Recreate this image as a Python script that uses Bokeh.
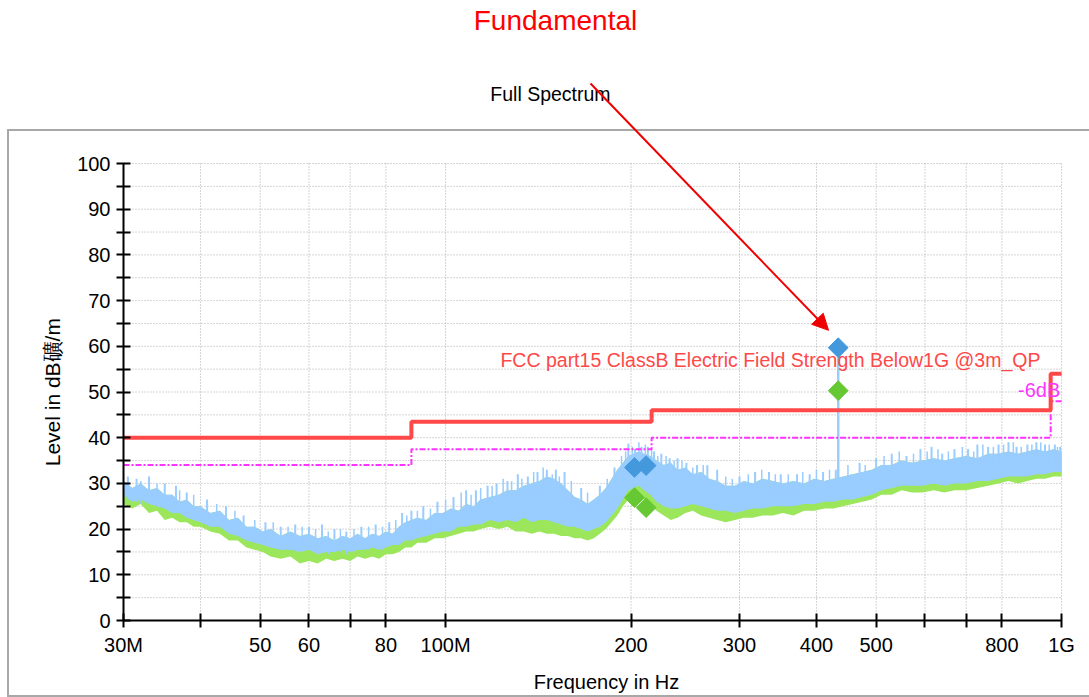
from bokeh.plotting import figure
from bokeh.models import FixedTicker, CustomJSTickFormatter, Label, Arrow, NormalHead
from bokeh.embed import file_html
from bokeh.resources import INLINE

# ---------------- data (frequency in MHz, level in dBuV/m) ----------------
freq_mhz = [30, 31, 32, 33, 34, 35, 36, 37, 38, 39, 40, 41.5, 43, 44.5, 46, 47.5, 49, 50.5,
            52, 54, 56, 58, 60, 62, 64, 66, 68, 70, 72, 74, 76, 78, 80, 82, 84, 86, 88, 90,
            93, 96, 99, 102, 105, 108, 111, 114, 118, 122, 126, 130, 134, 138, 142, 146,
            150, 154, 158, 162, 166, 170, 174, 178, 182, 186, 190, 194, 198, 202, 206, 210,
            215, 220, 226, 232, 238, 245, 252, 260, 268, 276, 285, 295, 305, 315, 327, 340,
            353, 367, 382, 397, 412, 426, 442, 458, 475, 492, 510, 530, 550, 572, 595, 620,
            645, 670, 700, 730, 760, 790, 820, 850, 880, 910, 940, 970, 1000]
peak_top = [30.5, 29.0, 30.0, 28.5, 29.0, 27.5, 27.5, 26.0, 26.5, 25.0, 25.0, 23.5, 24.0, 22.0,
            22.5, 20.5, 20.5, 19.5, 20.0, 18.5, 19.5, 18.5, 19.0, 18.0, 18.5, 17.5, 18.5, 18.0,
            19.0, 18.0, 19.0, 18.5, 19.5, 19.0, 20.5, 21.5, 22.0, 22.5, 22.0, 23.5, 23.5, 24.5,
            24.0, 25.5, 25.0, 26.5, 27.0, 27.5, 28.5, 28.5, 29.5, 30.0, 30.5, 31.5, 31.0, 30.0,
            28.5, 27.0, 26.5, 25.5, 26.5, 27.5, 29.0, 31.0, 33.0, 34.5, 36.0, 36.5, 37.0, 36.5,
            36.0, 35.0, 34.0, 34.5, 33.0, 33.5, 32.0, 32.5, 31.0, 30.5, 29.5, 29.5, 30.5, 30.0,
            31.0, 30.5, 30.0, 30.5, 30.0, 31.0, 30.5, 31.0, 31.5, 32.0, 32.5, 33.0, 34.0, 34.0,
            35.0, 34.5, 35.0, 35.5, 35.0, 35.5, 36.0, 35.5, 36.5, 36.5, 37.0, 36.5, 37.0, 37.5,
            37.0, 37.5, 37.0]
peak_floor = [27.5, 26.0, 26.5, 25.5, 25.0, 24.5, 23.5, 23.5, 22.5, 22.0, 21.5, 20.5, 20.5, 19.0,
              18.5, 17.5, 17.0, 16.5, 16.0, 15.5, 15.5, 15.0, 15.5, 14.5, 15.0, 15.0, 15.5, 15.0,
              15.5, 15.5, 16.0, 15.5, 16.0, 16.5, 16.5, 17.5, 17.5, 18.0, 18.5, 19.0, 19.5, 19.5,
              20.5, 20.5, 21.0, 21.0, 22.0, 21.5, 22.0, 21.5, 22.5, 21.5, 22.0, 22.0, 21.5, 21.0,
              20.5, 20.5, 20.0, 19.5, 20.0, 20.5, 21.5, 23.0, 24.5, 26.5, 28.5, 29.0, 29.5, 28.5,
              27.5, 26.0, 25.0, 24.5, 24.5, 25.0, 25.5, 25.0, 24.5, 24.0, 24.0, 23.5, 24.0, 24.5,
              24.5, 25.0, 25.0, 25.0, 25.5, 25.5, 26.0, 26.0, 26.5, 26.5, 27.0, 27.5, 28.5, 29.0,
              29.5, 29.5, 29.5, 30.0, 29.5, 30.0, 30.0, 30.5, 30.5, 31.0, 31.5, 31.5, 31.5, 32.0,
              32.0, 32.5, 32.5]
qp_floor = [25.5, 24.5, 25.5, 23.5, 24.0, 22.0, 22.5, 21.5, 21.5, 20.5, 20.5, 19.5, 19.0, 17.5,
            17.5, 16.0, 15.5, 15.0, 14.0, 13.5, 14.0, 12.5, 13.0, 12.5, 13.5, 13.0, 13.5, 13.0,
            14.0, 13.5, 14.0, 13.5, 14.5, 14.5, 15.0, 16.0, 16.0, 17.0, 17.0, 18.0, 18.0, 18.5,
            19.0, 19.5, 19.5, 20.0, 20.5, 20.0, 20.5, 19.5, 19.5, 19.0, 19.5, 19.0, 19.0, 18.5,
            18.5, 18.0, 18.0, 17.5, 18.0, 19.0, 20.0, 21.5, 23.0, 25.0, 26.5, 27.0, 27.5, 26.5,
            25.5, 24.0, 23.0, 22.0, 22.5, 23.5, 24.0, 23.0, 22.5, 22.0, 21.5, 22.0, 22.5, 22.5,
            23.0, 23.0, 23.5, 23.0, 24.0, 24.0, 24.5, 24.5, 25.0, 25.5, 26.0, 26.5, 27.5, 27.5,
            28.5, 28.0, 28.0, 28.5, 28.0, 28.5, 28.5, 29.0, 29.5, 30.0, 30.5, 30.0, 30.5, 31.0,
            31.0, 31.5, 31.5]
spike_mhz = [30.5, 31.5, 33, 35, 36.5, 38, 41, 44, 47, 51, 54, 57, 60, 63, 66, 69, 73, 77, 81,
             85, 88, 92, 97, 103, 108, 112, 117, 121, 126, 131, 136, 141, 146, 151, 156, 166,
             178, 188, 198, 203, 208, 213, 218, 224, 231, 238, 246, 256, 266, 276, 300, 318,
             335, 350, 372, 390, 410, 430, 470, 500, 530, 560, 590, 615, 640, 670, 705, 730,
             760, 790, 820, 845, 880, 910, 940, 975, 995]
spike_level = [31.5, 31.0, 31.5, 30.0, 29.5, 28.0, 26.5, 25.0, 23.0, 21.5, 20.5, 21.0, 20.5,
               21.0, 20.0, 19.5, 20.5, 21.0, 21.5, 23.5, 24.0, 25.0, 26.0, 27.0, 28.5, 28.5,
               29.5, 30.0, 30.5, 32.0, 31.5, 32.5, 33.0, 33.0, 32.5, 29.0, 29.5, 33.5, 38.7,
               37.5, 38.0, 38.0, 37.0, 36.5, 35.5, 35.5, 34.5, 34.0, 34.0, 33.0, 31.5, 32.5,
               32.5, 32.0, 32.0, 32.0, 32.5, 33.0, 34.5, 35.5, 36.5, 36.0, 37.5, 38.0, 36.5,
               37.5, 37.5, 38.5, 38.0, 38.5, 39.0, 38.0, 38.5, 39.0, 38.5, 38.5, 38.0]
spike2_mhz = [32, 34, 37, 39, 42.5, 45.5, 49, 52.5, 55.5, 58.5, 61.5, 64.5, 67.5, 71, 75, 79,
              83, 86.5, 90, 94.5, 100, 106, 110, 114, 119, 124, 128, 133, 139, 144, 149, 153,
              160, 170, 183, 193, 196, 201, 206, 211, 216, 221, 228, 235, 242, 252, 262, 285,
              292, 310, 326, 343, 360, 380, 400, 420, 450, 480, 515, 545, 575, 605, 630, 655,
              690, 720, 745, 775, 805, 835, 860, 895, 925, 955, 985]
spike2_level = [30.5, 30.0, 28.5, 27.5, 25.5, 24.0, 22.0, 21.5, 20.5, 20.5, 20.0, 19.5, 20.0,
                20.0, 20.5, 20.5, 22.0, 23.0, 24.0, 24.5, 26.5, 28.0, 27.5, 29.0, 29.5, 31.0,
                30.5, 31.0, 32.5, 33.5, 32.0, 31.5, 30.5, 28.0, 31.0, 36.0, 37.0, 38.0, 39.0,
                38.5, 37.5, 36.0, 36.0, 35.0, 35.0, 33.5, 34.0, 31.5, 31.0, 32.0, 33.0, 32.0,
                32.0, 32.5, 33.0, 33.0, 34.0, 34.0, 36.0, 37.0, 36.5, 37.0, 37.5, 37.0, 38.0,
                37.0, 38.5, 38.0, 38.5, 39.0, 38.0, 38.5, 39.0, 38.5, 38.0]

limit_edges_mhz = [30, 88, 216, 960, 1000]
limit_level = [40, 43.5, 46, 54, 54]
margin_level = [34, 37.5, 40, 48, 48]

fund_mhz = 433.92
fund_base = 31.0
marker_mhz = [202.6, 211.6, 433.92]
marker_peak = [33.5, 33.9, 59.7]
marker_qp = [26.9, 24.7, 50.3]

x_tick_mhz = [30, 50, 60, 80, 100, 200, 300, 400, 500, 800, 1000]
x_tick_labels = ["30M", "50", "60", "80", "100M", "200", "300", "400", "500", "800", "1G"]
x_minor_mhz = [40, 70, 600, 700]
y_ticks = [0, 10, 20, 30, 40, 50, 60, 70, 80, 90, 100]
y_minor = [5, 15, 25, 35, 45, 55, 65, 75, 85, 95]
x_grid_mhz = [40, 50, 60, 70, 80, 100, 200, 300, 400, 500, 600, 700, 800, 1000]
y_grid = [5, 10, 15, 20, 25, 30, 35, 40, 45, 50, 55, 60, 65, 70, 75, 80, 85, 90, 95, 100]

# ---------------- figure ----------------
SANS = "Liberation Sans"

# plot frame reaches the top and right edges so the annotations above the
# 0..100 dB area (titles, arrow) are drawn; axes are bounded to the data area
p = figure(width=1089, height=697, x_axis_type="log", x_range=(30, 1110), y_range=(0, 135.67),
           output_backend="svg", toolbar_location=None,
           min_border_left=123, min_border_right=0, min_border_top=0, min_border_bottom=77)
p.outline_line_color = None
p.background_fill_alpha = 0
p.border_fill_alpha = 0
p.xgrid.visible = False
p.ygrid.visible = False
# grey window frame around the chart (page background behind the transparent canvas)
p.styles = {
    "background-color": "white",
    "background-image": ("linear-gradient(#a8a8a8,#a8a8a8), linear-gradient(#a8a8a8,#a8a8a8), "
                         "linear-gradient(#a8a8a8,#a8a8a8)"),
    "background-size": "1090px 2px, 2px 568px, 1090px 2px",
    "background-position": "7px 129px, 7px 129px, 7px 695px",
    "background-repeat": "no-repeat",
}

for ax in (p.xaxis[0], p.yaxis[0]):
    ax.axis_line_width = 2
    ax.axis_line_color = "black"
    ax.major_tick_line_width = 2
    ax.minor_tick_line_width = 2
    ax.major_tick_line_color = "black"
    ax.minor_tick_line_color = "black"
    ax.major_tick_in = 7
    ax.major_tick_out = 7
    ax.minor_tick_in = 7
    ax.minor_tick_out = 7
    ax.major_label_text_font = SANS
    ax.major_label_text_font_size = "20px"
    ax.major_label_text_color = "black"
    ax.major_label_standoff = 6
    ax.axis_label_text_font = SANS
    ax.axis_label_text_font_style = "normal"
    ax.axis_label_text_color = "black"

p.xaxis.bounds = (30, 1000)
p.xaxis.ticker = FixedTicker(ticks=x_tick_mhz, minor_ticks=x_minor_mhz)
p.xaxis.formatter = CustomJSTickFormatter(
    args=dict(vals=x_tick_mhz, labs=x_tick_labels),
    code="const i = vals.indexOf(tick); return i >= 0 ? labs[i] : '';")
p.xaxis.axis_label = "Frequency in Hz"
p.xaxis.axis_label_text_font_size = "20px"
p.xaxis.axis_label_standoff = 12

p.yaxis.bounds = (0, 100)
p.yaxis.ticker = FixedTicker(ticks=y_ticks, minor_ticks=y_minor)
# the label is centred on the whole (taller) frame: trailing no-break spaces move the
# visible words down to the middle of the 0..100 dB axis
p.yaxis.axis_label = "Level in dB礦/m" + "\u00a0" * 28
p.yaxis.axis_label_text_font_size = "21px"
p.yaxis.axis_label_standoff = 10

# dotted grid inside the 0..100 dB / 30M..1G area
p.segment(x0=x_grid_mhz, x1=x_grid_mhz, y0=0, y1=100, line_color="#aaaaaa",
          line_dash="1 2", line_width=1)
p.segment(x0=30, x1=1000, y0=y_grid, y1=y_grid, line_color="#aaaaaa",
          line_dash="1 2", line_width=1)

# ---------------- spectrum ----------------
BLUE = "#99ccff"
GREEN = "#9be65a"
p.varea(x=freq_mhz, y1=qp_floor, y2=peak_top, fill_color=GREEN)
p.varea(x=freq_mhz, y1=peak_floor, y2=peak_top, fill_color=BLUE)
p.segment(x0=spike_mhz, x1=spike_mhz, y0=[v - 5 for v in spike_level], y1=spike_level,
          line_color=BLUE, line_width=2)
p.segment(x0=spike2_mhz, x1=spike2_mhz, y0=[v - 5 for v in spike2_level], y1=spike2_level,
          line_color=BLUE, line_width=1.5)
p.segment(x0=[fund_mhz], x1=[fund_mhz], y0=[fund_base], y1=[marker_peak[2]],
          line_color=BLUE, line_width=2.5)

# limit lines
p.step(x=limit_edges_mhz, y=margin_level, mode="after", line_color="#ff33ff",
       line_width=2, line_dash="6 2 2 2")
p.step(x=limit_edges_mhz, y=limit_level, mode="after", line_color="#ff4848", line_width=4)

# markers
p.scatter(x=marker_mhz, y=marker_qp, marker="square", angle=0.785398, size=14,
          fill_color="#66c833", line_color="#66c833")
p.scatter(x=marker_mhz, y=marker_peak, marker="square", angle=0.785398, size=14,
          fill_color="#4499dd", line_color="#4499dd")

# texts
p.add_layout(Label(x=924, y=56.9, text="FCC part15 ClassB Electric Field Strength Below1G @3m_QP",
                   text_align="right", text_baseline="middle", text_font=SANS,
                   text_font_size="19.5px", text_color="#ff4848"))
p.add_layout(Label(x=995, y=50.5, text="-6dB", text_align="right", text_baseline="middle",
                   text_font=SANS, text_font_size="20px", text_color="#ff33ff"))
p.add_layout(Label(x=148, y=115.3, text="Full Spectrum", text_align="center",
                   text_baseline="middle", text_font=SANS, text_font_size="19.5px",
                   text_color="black"))
p.add_layout(Label(x=150.8, y=131.3, text="Fundamental", text_align="center",
                   text_baseline="middle", text_font=SANS, text_font_size="28px",
                   text_color="#ff0000"))

p.add_layout(Arrow(end=NormalHead(size=16, fill_color="#ee0000", line_color="#ee0000"),
                   x_start=171.9, y_start=117.5, x_end=418.5, y_end=63.5,
                   line_color="#ee0000", line_width=2))

open("out.html", "w").write(file_html(p, INLINE))
